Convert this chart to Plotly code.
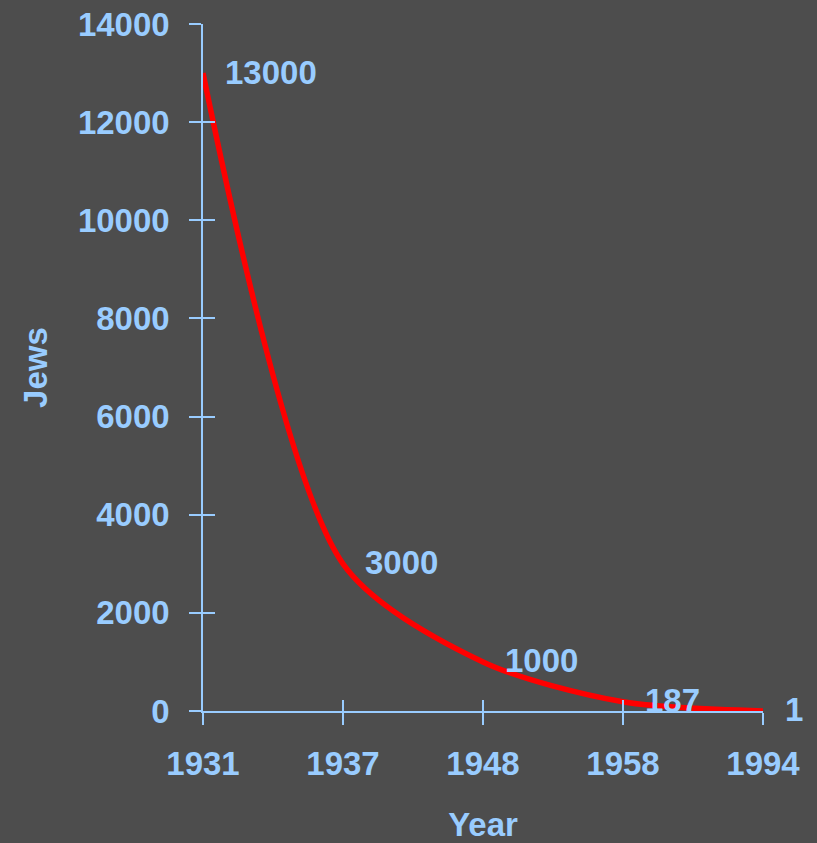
import plotly.graph_objects as go

years = ["1931", "1937", "1948", "1958", "1994"]
jews = [13000, 3000, 1000, 187, 1]
y_ticks = [0, 2000, 4000, 6000, 8000, 10000, 12000, 14000]

BG = "#4D4D4D"
FG = "#99CCFF"
FONT = "Liberation Sans, Arial, sans-serif"
FS = 33

idx = list(range(len(years)))

fig = go.Figure()
fig.add_trace(go.Scatter(
    x=idx, y=jews, mode="lines",
    line=dict(color="#FF0000", width=5.5, shape="spline", smoothing=0.8),
    hoverinfo="skip", showlegend=False,
))
# invisible trace on overlay axes (inside half of crossing ticks)
fig.add_trace(go.Scatter(
    x=idx, y=jews, mode="lines", line=dict(width=0), opacity=0,
    xaxis="x2", yaxis="y2", hoverinfo="skip", showlegend=False,
))

for i, (yr, v) in enumerate(zip(years, jews)):
    fig.add_annotation(
        x=i, y=v, text=f"<b>{v}</b>", showarrow=False,
        xanchor="left", yanchor="middle", xshift=20, yshift=1,
        font=dict(family=FONT, size=FS, color=FG),
    )

axis_common = dict(
    showgrid=False, zeroline=False, linecolor=FG, linewidth=1.5,
    tickcolor=FG, tickwidth=1.5, ticklen=12, automargin=False,
    tickfont=dict(family=FONT, size=FS, color=FG),
)

fig.update_layout(
    width=817, height=843,
    paper_bgcolor=BG, plot_bgcolor=BG,
    margin=dict(l=203, r=54, t=24, b=132),
    font=dict(family=FONT, color=FG, size=FS),
    xaxis=dict(
        **axis_common, range=[0, len(years) - 1],
        tickmode="array", tickvals=idx,
        ticktext=[f"<b>{y}</b>" for y in years],
        showline=True, ticks="outside", ticklabelstandoff=11,
        title=dict(text="<b>Year</b>", font=dict(family=FONT, size=FS, color=FG), standoff=34),
    ),
    yaxis=dict(
        **axis_common, range=[0, 14000],
        tickmode="array", tickvals=y_ticks,
        ticktext=[f"<b>{t}</b>" for t in y_ticks],
        showline=True, ticks="outside", ticklabelstandoff=13,
        title=dict(text="<b>Jews</b>", font=dict(family=FONT, size=FS, color=FG), standoff=20),
    ),
    xaxis2=dict(
        overlaying="x", anchor="y2", side="bottom", automargin=False,
        range=[0, len(years) - 1], tickmode="array", tickvals=idx,
        showticklabels=False, showgrid=False, zeroline=False, showline=False,
        ticks="inside", ticklen=11, tickcolor=FG, tickwidth=1.5,
    ),
    yaxis2=dict(
        overlaying="y", anchor="x2", side="left", automargin=False,
        range=[0, 14000], tickmode="array", tickvals=y_ticks,
        showticklabels=False, showgrid=False, zeroline=False, showline=False,
        ticks="inside", ticklen=12, tickcolor=FG, tickwidth=1.5,
    ),
)

fig.write_html(
    "out.html",
    config={"displayModeBar": False},
    post_script="document.body.style.margin='0';document.body.style.background='#4D4D4D';document.body.style.overflow='hidden';",
)
